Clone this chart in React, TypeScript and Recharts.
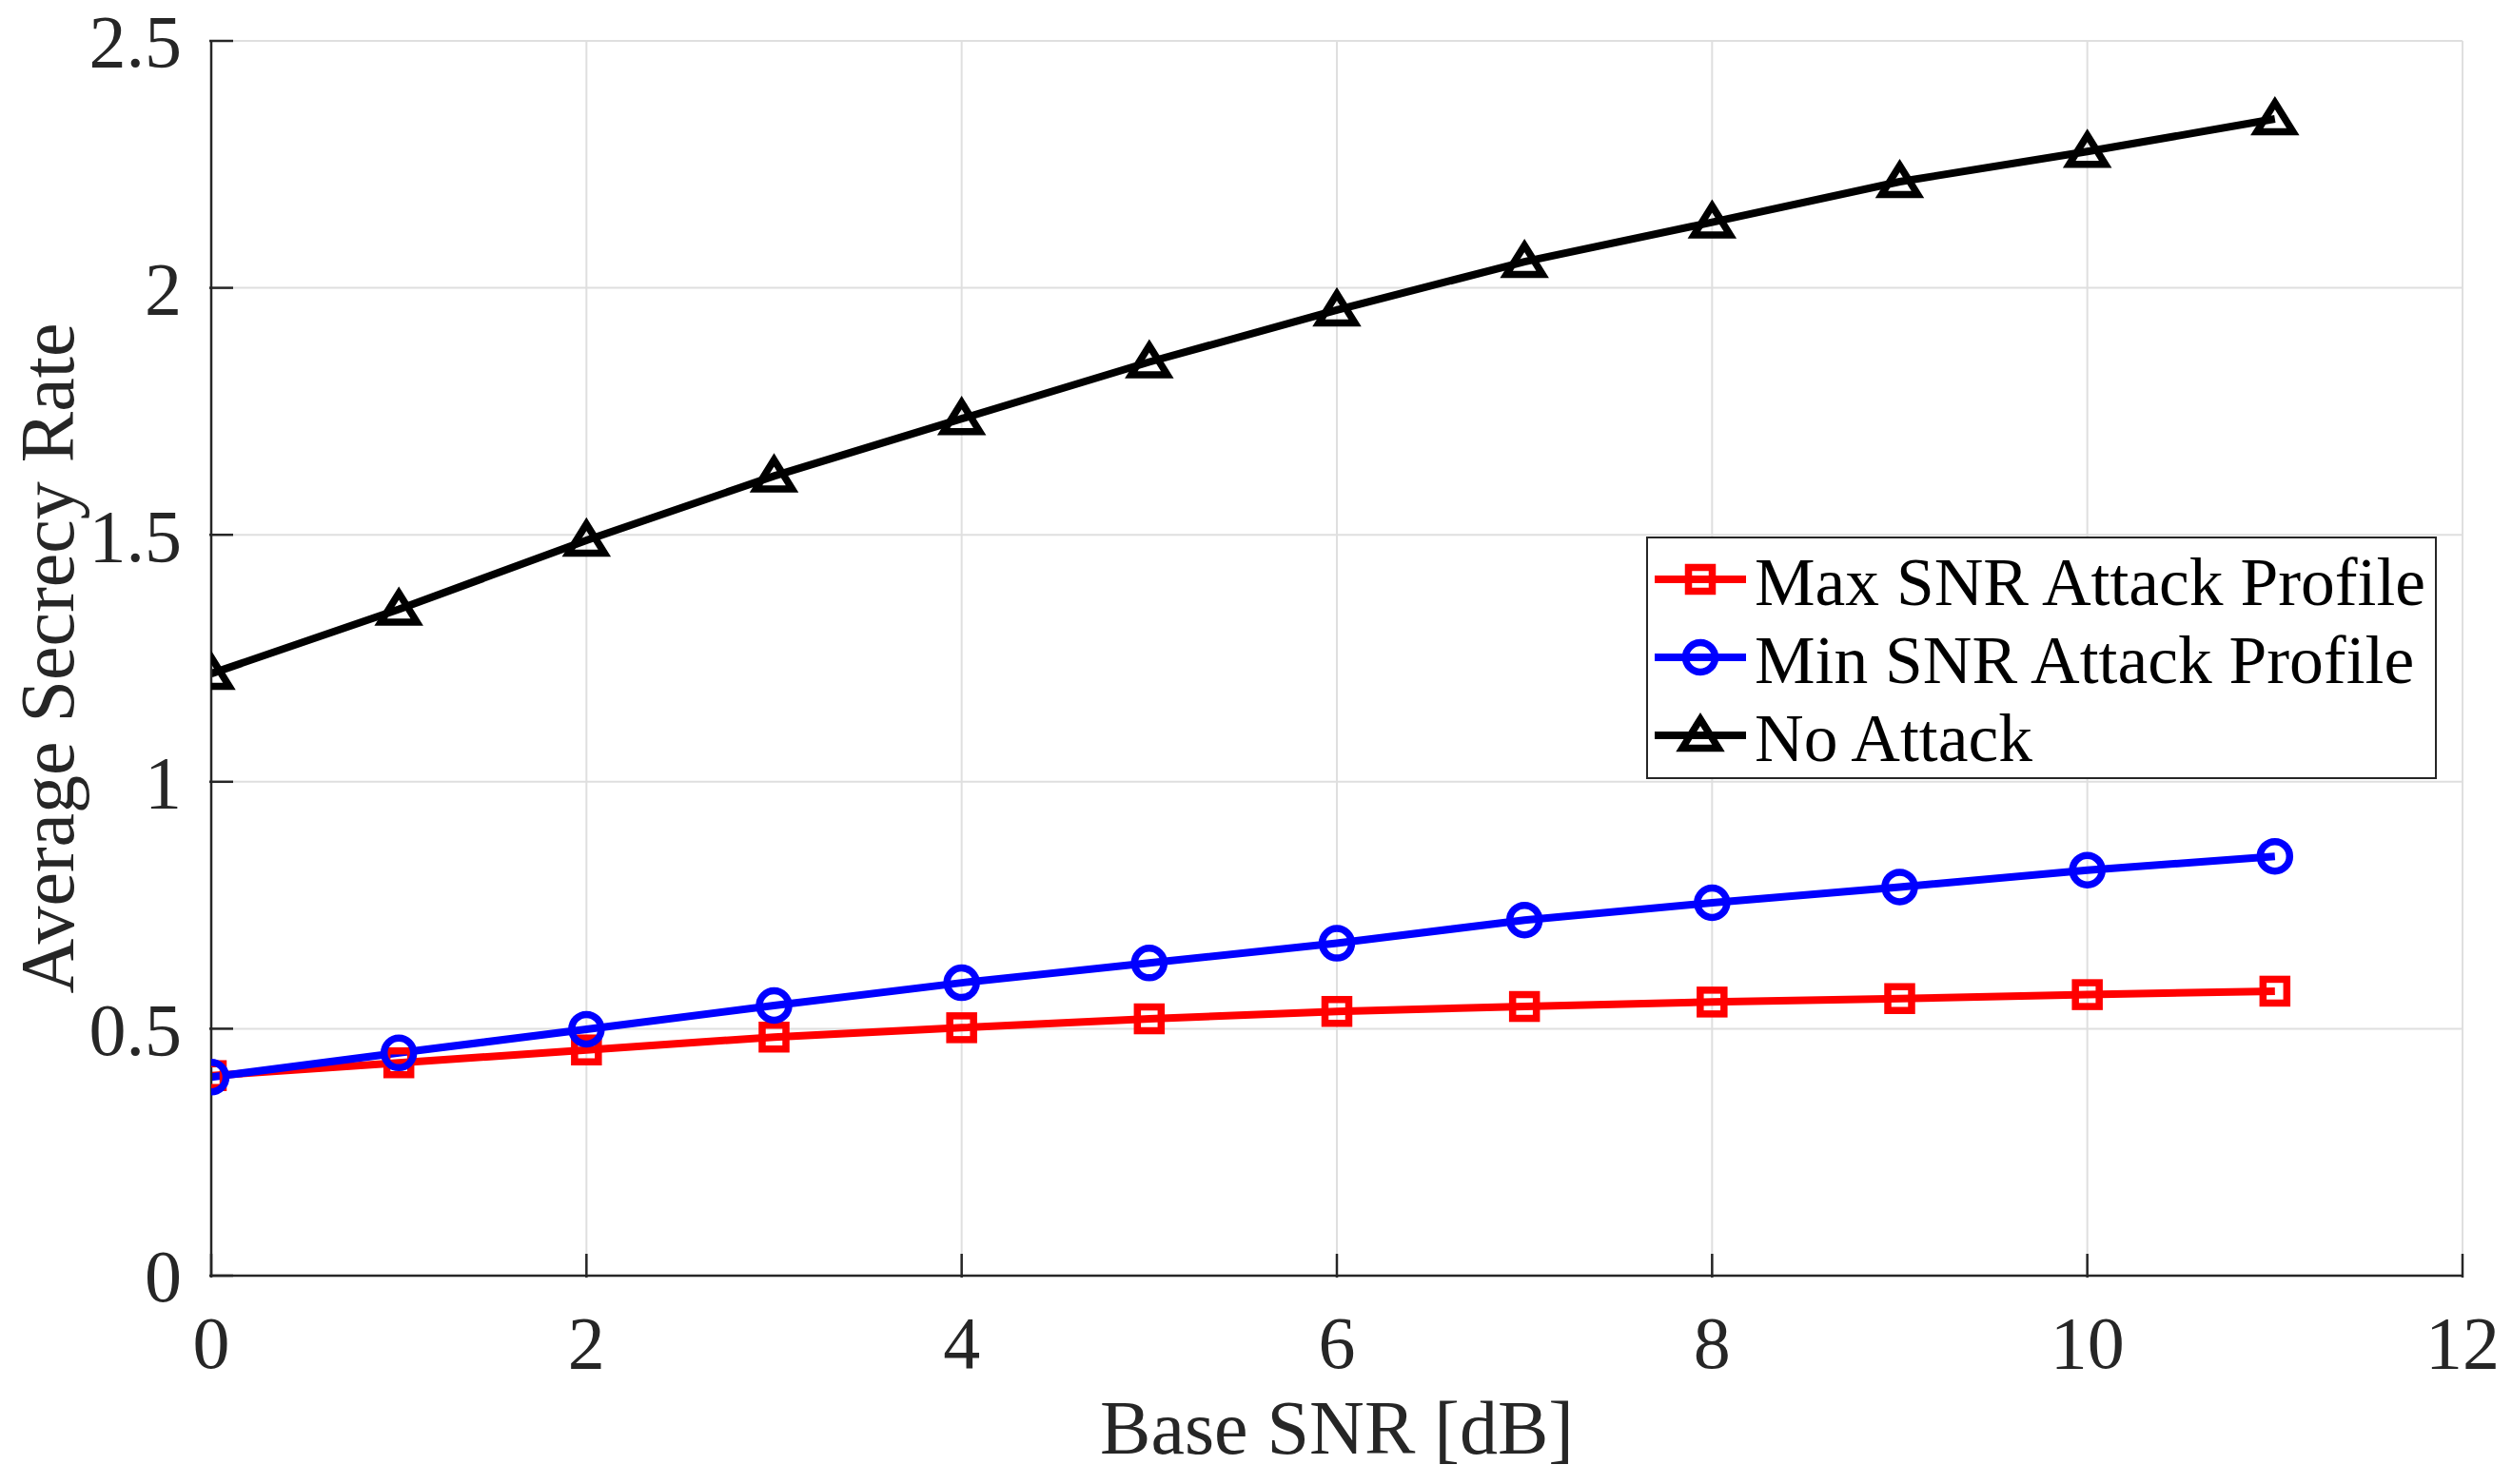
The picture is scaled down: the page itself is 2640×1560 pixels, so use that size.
import React from "react";
import { LineChart, Line, XAxis, YAxis, CartesianGrid, Legend } from "recharts";

// values
const snrDb = [0, 1, 2, 3, 4, 5, 6, 7, 8, 9, 10, 11];
const maxSnrProfile = [0.405, 0.431, 0.457, 0.483, 0.502, 0.52, 0.535, 0.545, 0.554, 0.561, 0.569, 0.576];
const minSnrProfile = [0.402, 0.451, 0.499, 0.547, 0.593, 0.633, 0.673, 0.72, 0.755, 0.787, 0.821, 0.849];
const noAttack = [1.219, 1.349, 1.489, 1.619, 1.735, 1.85, 1.955, 2.053, 2.133, 2.215, 2.276, 2.342];

const xTicks = [0, 2, 4, 6, 8, 10, 12];
const yTicks = [0, 0.5, 1, 1.5, 2, 2.5];

const seriesNames = ["Max SNR Attack Profile", "Min SNR Attack Profile", "No Attack"];

const data = snrDb.map((snr, i) => ({
  snr,
  max: maxSnrProfile[i],
  min: minSnrProfile[i],
  none: noAttack[i],
}));

const FONT = "'Liberation Serif', 'Times New Roman', serif";
const AXIS = "#262626";
const TICK_LEN = 25;
const LW = 8;
const MW = 7.5;

const Square = ({ cx, cy, color }: any) => (
  <rect x={cx - 12.5} y={cy - 12.5} width={25} height={25} fill="none" stroke={color} strokeWidth={MW} />
);
const Circle = ({ cx, cy, color }: any) => (
  <circle cx={cx} cy={cy} r={15.5} fill="none" stroke={color} strokeWidth={MW} />
);
const Triangle = ({ cx, cy, color }: any) => (
  <path
    d={`M${cx},${cy - 17} L${cx + 19},${cy + 13.5} L${cx - 19},${cy + 13.5} Z`}
    fill="none"
    stroke={color}
    strokeWidth={MW}
    strokeLinejoin="miter"
  />
);

const markers = [Square, Circle, Triangle];
const colors = ["#ff0000", "#0000ff", "#000000"];

const BottomTick = ({ x, y, payload }: any) => (
  <g>
    <line x1={x} y1={y} x2={x} y2={y - TICK_LEN} stroke={AXIS} strokeWidth={2.5} />
    <text x={x} y={y + 40} dy="0.71em" textAnchor="middle" fill={AXIS} fontSize={78} fontFamily={FONT}>
      {payload.value}
    </text>
  </g>
);

const LeftTick = ({ x, y, payload }: any) => (
  <g>
    <line x1={x} y1={y} x2={x + TICK_LEN} y2={y} stroke={AXIS} strokeWidth={2.5} />
    <text x={x - 29} y={y} dy="0.35em" textAnchor="end" fill={AXIS} fontSize={78} fontFamily={FONT}>
      {payload.value}
    </text>
  </g>
);

const TopTick = ({ x, y }: any) => (
  <line x1={x} y1={y} x2={x} y2={y + TICK_LEN} stroke={AXIS} strokeWidth={2.5} />
);

const RightTick = ({ x, y }: any) => (
  <line x1={x} y1={y} x2={x - TICK_LEN} y2={y} stroke={AXIS} strokeWidth={2.5} />
);

const xLabel = ({ viewBox }: any) => (
  <text
    x={viewBox.x + viewBox.width / 2}
    y={viewBox.y + 187}
    textAnchor="middle"
    fill={AXIS}
    fontSize={80}
    fontFamily={FONT}
  >
    Base SNR [dB]
  </text>
);

const yLabel = ({ viewBox }: any) => {
  const cy = viewBox.y + viewBox.height / 2;
  const bx = viewBox.x + 77;
  return (
    <text
      x={bx}
      y={cy}
      transform={`rotate(-90, ${bx}, ${cy})`}
      textAnchor="middle"
      fill={AXIS}
      fontSize={80}
      fontFamily={FONT}
    >
      Average Secrecy Rate
    </text>
  );
};

const LegendBox = () => (
  <div
    style={{
      width: 831,
      height: 255,
      boxSizing: "border-box",
      border: `2.5px solid ${AXIS}`,
      background: "#fff",
      position: "relative",
    }}
  >
    <svg width={826} height={250} style={{ position: "absolute", left: 0, top: 0 }}>
      {seriesNames.map((name, i) => {
        const Marker = markers[i];
        const cy = 43 + i * 82;
        return (
          <g key={name}>
            <line x1={7} y1={cy} x2={103} y2={cy} stroke={colors[i]} strokeWidth={LW} />
            <Marker cx={55} cy={cy} color={colors[i]} />
            <text x={112} y={cy + 27} fontSize={71.5} fontFamily={FONT} fill="#000">
              {name}
            </text>
          </g>
        );
      })}
    </svg>
  </div>
);

const dotFor = (i: number) => (p: any) => {
  const Marker = markers[i];
  return <Marker key={`d${i}-${p.index}`} cx={p.cx} cy={p.cy} color={colors[i]} />;
};

export default function App() {
  return (
    <div style={{ position: "absolute", left: 0, top: 0, width: 2640, height: 1560, background: "#fff", fontFamily: FONT }}>
      <LineChart width={2640} height={1560} data={data} margin={{ top: 43, right: 52, bottom: 0, left: 0 }}>
        <CartesianGrid stroke="#dfdfdf" strokeWidth={2} />
        <XAxis
          dataKey="snr"
          type="number"
          domain={[0, 12]}
          ticks={xTicks}
          allowDataOverflow
          height={219}
          tickSize={0}
          tickLine={false}
          tick={<BottomTick />}
          axisLine={{ stroke: AXIS, strokeWidth: 2.5 }}
          label={xLabel}
        />
        <XAxis
          xAxisId="top"
          orientation="top"
          type="number"
          domain={[0, 12]}
          ticks={xTicks}
          allowDataOverflow
          height={0}
          tickSize={0}
          tickLine={false}
          tick={<TopTick />}
          axisLine={{ stroke: AXIS, strokeWidth: 2.5 }}
        />
        <YAxis
          type="number"
          domain={[0, 2.5]}
          ticks={yTicks}
          allowDataOverflow
          width={222}
          tickSize={0}
          tickLine={false}
          tick={<LeftTick />}
          axisLine={{ stroke: AXIS, strokeWidth: 2.5 }}
          label={yLabel}
        />
        <YAxis
          yAxisId="right"
          orientation="right"
          type="number"
          domain={[0, 2.5]}
          ticks={yTicks}
          allowDataOverflow
          width={0}
          tickSize={0}
          tickLine={false}
          tick={<RightTick />}
          axisLine={{ stroke: AXIS, strokeWidth: 2.5 }}
        />
        <Legend
          layout="horizontal"
          align="center"
          verticalAlign="middle"
          wrapperStyle={{ left: 1730, top: 564, width: 831, height: 255 }}
          content={() => <LegendBox />}
        />
        <Line
          type="linear"
          dataKey="max"
          name={seriesNames[0]}
          stroke={colors[0]}
          strokeWidth={LW}
          dot={dotFor(0)}
          activeDot={false}
          isAnimationActive={false}
        />
        <Line
          type="linear"
          dataKey="min"
          name={seriesNames[1]}
          stroke={colors[1]}
          strokeWidth={LW}
          dot={dotFor(1)}
          activeDot={false}
          isAnimationActive={false}
        />
        <Line
          type="linear"
          dataKey="none"
          name={seriesNames[2]}
          stroke={colors[2]}
          strokeWidth={LW}
          dot={dotFor(2)}
          activeDot={false}
          isAnimationActive={false}
        />
      </LineChart>
    </div>
  );
}
